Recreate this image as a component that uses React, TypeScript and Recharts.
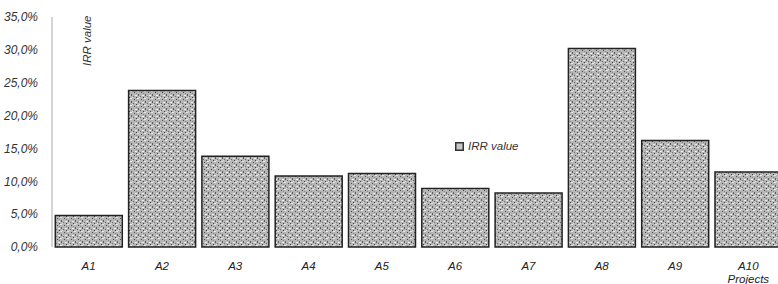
import React from "react";
import { BarChart, Bar, XAxis, YAxis, Legend } from "recharts";

// categories and values (IRR, in %)
const projects = ["A1", "A2", "A3", "A4", "A5", "A6", "A7", "A8", "A9", "A10"];
const irrValues = [4.8, 23.8, 13.8, 10.8, 11.2, 8.9, 8.2, 30.2, 16.2, 11.4];
const yTicks = [0, 5, 10, 15, 20, 25, 30, 35];

const data = projects.map((name, i) => ({ name, irr: irrValues[i] }));

const font = "'Liberation Sans', Arial, sans-serif";

const fmt = (v: number) => v.toFixed(1).replace(".", ",") + "%";

const XTick = (props: any) => {
  const { x, y, payload, index } = props;
  return (
    <g>
      <text x={x} y={y} dy="0.71em" textAnchor="middle" fontFamily={font} fontSize={11.5} fontStyle="italic" fill="#222">
        {payload.value}
      </text>
      {index === projects.length - 1 && (
        <text x={x} y={y + 13} dy="0.71em" textAnchor="middle" fontFamily={font} fontSize={11.5} fontStyle="italic" fill="#222">
          Projects
        </text>
      )}
    </g>
  );
};

const LegendBox = () => (
  <div style={{ display: "flex", alignItems: "center", fontFamily: font, fontSize: 11.5, fontStyle: "italic", color: "#333" }}>
    <svg width={9} height={9} style={{ marginRight: 4 }}>
      <rect x={0.75} y={0.75} width={7.5} height={7.5} fill="#c8c8c8" stroke="#333" strokeWidth={1.5} />
    </svg>
    IRR value
  </div>
);

const App = () => {
  return (
    <div style={{ position: "absolute", left: 0, top: 0, width: 778, height: 284, overflow: "hidden" }}>
      <BarChart
        width={790}
        height={284}
        data={data}
        margin={{ top: 17, right: 5, bottom: 0, left: 0 }}
        barCategoryGap="4.5%"
      >
        <defs>
          <pattern id="speckle" width="7" height="7" patternUnits="userSpaceOnUse">
            <rect width="7" height="7" fill="#b6b6b6" />
            <rect x="1" y="1" width="1" height="1" fill="#4a4a4a" />
            <rect x="4" y="0" width="2" height="1" fill="#e8e8e8" />
            <rect x="5" y="3" width="1" height="2" fill="#5e5e5e" />
            <rect x="2" y="4" width="2" height="1" fill="#eeeeee" />
            <rect x="0" y="5" width="1" height="1" fill="#707070" />
            <rect x="3" y="6" width="1" height="1" fill="#444" />
            <rect x="6" y="6" width="1" height="1" fill="#dcdcdc" />
            <rect x="3" y="2" width="1" height="1" fill="#888" />
          </pattern>
        </defs>
        <XAxis
          dataKey="name"
          axisLine={false}
          tickLine={false}
          tickSize={6}
          tickMargin={9}
          height={37}
          interval={0}
          tick={<XTick />}
        />
        <YAxis
          domain={[0, 35]}
          ticks={yTicks}
          tickFormatter={fmt}
          width={52}
          axisLine={{ stroke: "#aaa" }}
          tickLine={false}
          tickSize={6}
          tickMargin={8}
          tick={{ fontFamily: font, fontSize: 12, fontStyle: "italic", fill: "#333" }}
        />
        <Legend
          layout="horizontal"
          verticalAlign="middle"
          align="center"
          content={<LegendBox />}
          wrapperStyle={{ position: "absolute", left: 455, top: 140, width: 100 }}
        />
        <Bar
          dataKey="irr"
          name="IRR value"
          fill="url(#speckle)"
          stroke="#222"
          strokeWidth={1.5}
          isAnimationActive={false}
        />
      </BarChart>
      <div
        style={{
          position: "absolute",
          left: 81,
          top: 12,
          width: 14,
          height: 54,
          fontFamily: font,
          fontSize: 11.5,
          fontStyle: "italic",
          color: "#333",
          writingMode: "vertical-rl",
          transform: "rotate(180deg)",
          whiteSpace: "nowrap",
          textAlign: "left",
        }}
      >
        IRR value
      </div>
    </div>
  );
};

export default App;
